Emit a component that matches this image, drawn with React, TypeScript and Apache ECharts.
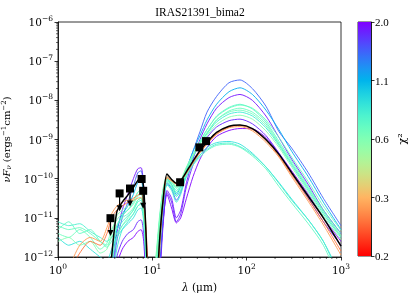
import React, { useEffect, useRef } from "react";
import * as echarts from "echarts";

// Wavelength grid (micron) shared by all model SEDs
const wavelengths = [1, 1.3, 1.7, 2.2, 2.8, 3.3, 3.7, 4.2, 4.8, 5.5, 6.3, 7.0, 7.6, 8.1, 8.6, 9.2, 10, 11, 12, 13, 14.3, 16, 18, 20, 23, 27, 32, 38, 48, 65, 85, 115, 160, 220, 300, 450, 650, 1000];

// log10(nuFnu) of model SEDs
const model01 = [-13, -13, -13, -13, -13, -13, -12.6, -11.6, -11.0, -10.6, -10.2, -9.85, -9.8, -10.3, -11.8, -13, -13.5, -13, -12.2, -10.9, -10.1, -10.25, -10.55, -10.35, -9.8, -9.3, -8.8, -8.3, -7.9, -7.55, -7.48, -7.7, -8.15, -8.8, -9.22, -9.85, -10.5, -11.2];
const model02 = [-13, -13, -13, -13, -13, -13, -12.3, -11.3, -10.9, -10.7, -10.4, -10.1, -10.05, -10.5, -12, -13.5, -14, -12.8, -11.5, -10.5, -10.0, -10.15, -10.4, -10.2, -9.75, -9.3, -8.9, -8.5, -8.1, -7.78, -7.68, -7.85, -8.25, -8.75, -9.3, -9.95, -10.6, -11.3];
const model03 = [-13.5, -13.5, -13.5, -13.5, -13.5, -13.5, -12.5, -11.4, -10.8, -10.4, -10.0, -9.75, -9.72, -10.2, -11.6, -13.5, -14, -13.5, -12.5, -11.2, -10.3, -10.5, -11.0, -10.8, -10.1, -9.5, -9.0, -8.6, -8.2, -7.93, -7.85, -8.0, -8.4, -8.95, -9.5, -10.15, -10.8, -11.4];
const model04 = [-12.5, -12.6, -12.8, -13, -13, -12.8, -12.0, -11.2, -10.95, -10.8, -10.6, -10.35, -10.3, -10.6, -11.8, -12.8, -13.2, -12.2, -11.1, -10.4, -10.0, -10.15, -10.35, -10.2, -9.8, -9.4, -9.05, -8.75, -8.4, -8.18, -8.1, -8.22, -8.55, -9.05, -9.55, -10.2, -10.8, -11.4];
const model05 = [-11.2, -11.3, -11.25, -11.4, -11.6, -11.7, -11.5, -11.2, -11.0, -10.9, -10.75, -10.55, -10.5, -10.8, -11.9, -12.5, -12.8, -11.9, -10.9, -10.3, -10.0, -10.1, -10.25, -10.1, -9.75, -9.4, -9.1, -8.85, -8.5, -8.27, -8.2, -8.3, -8.6, -9.1, -9.6, -10.25, -10.85, -11.45];
const model06 = [-13.5, -13.5, -13.5, -13.5, -13.5, -13.5, -12.8, -11.8, -11.3, -11.1, -10.9, -10.7, -10.65, -11.0, -12.2, -13.5, -14, -13, -11.8, -10.7, -10.15, -10.3, -10.6, -10.4, -9.9, -9.45, -9.1, -8.85, -8.55, -8.35, -8.3, -8.4, -8.7, -9.15, -9.65, -10.3, -10.9, -11.5];
const model07 = [-11.6, -11.5, -11.7, -11.6, -11.9, -11.8, -11.4, -10.95, -10.8, -10.7, -10.55, -10.35, -10.28, -10.6, -11.6, -12.6, -13, -12.0, -11.0, -10.25, -9.95, -10.05, -10.2, -10.05, -9.7, -9.4, -9.15, -8.9, -8.62, -8.43, -8.38, -8.48, -8.78, -9.2, -9.7, -10.35, -10.95, -11.55];
const model08 = [-14, -14, -14, -14, -14, -14, -13, -12.0, -11.6, -11.4, -11.3, -11.1, -11.05, -11.4, -12.5, -14, -14, -13.5, -12.3, -11.1, -10.35, -10.6, -11.1, -10.9, -10.2, -9.65, -9.25, -8.95, -8.68, -8.52, -8.48, -8.6, -8.9, -9.35, -9.85, -10.5, -11.1, -11.7];
const model09 = [-12.6, -12.4, -11.9, -11.6, -11.7, -11.4, -11.0, -10.8, -10.7, -10.6, -10.5, -10.42, -10.38, -10.55, -11.3, -12.8, -14, -13, -11.5, -10.5, -9.95, -10.05, -10.12, -10.05, -9.85, -9.58, -9.32, -9.1, -8.85, -8.68, -8.64, -8.74, -9.02, -9.42, -9.9, -10.52, -11.1, -11.85];
const model10 = [-14, -14, -14, -14, -14, -14, -13, -12.2, -11.8, -11.6, -11.5, -11.35, -11.3, -11.6, -12.8, -14, -14, -13.5, -12.3, -11.1, -10.4, -10.75, -11.13, -11.0, -10.5, -9.95, -9.5, -9.2, -8.92, -8.77, -8.72, -8.73, -8.95, -9.35, -9.8, -10.4, -11.0, -11.6];
const model11 = [-11.1, -11.2, -11.15, -11.35, -11.5, -11.6, -11.5, -11.3, -11.1, -10.95, -10.8, -10.6, -10.55, -10.9, -12.0, -12.9, -13.2, -12.1, -11.0, -10.35, -10.05, -10.15, -10.3, -10.15, -9.85, -9.6, -9.4, -9.25, -9.12, -9.09, -9.18, -9.38, -9.7, -10.12, -10.55, -11.05, -11.6, -12.6];
const model12 = [-11.3, -11.1, -11.4, -11.3, -11.6, -11.75, -11.6, -11.4, -11.2, -11.05, -10.9, -10.7, -10.62, -11.0, -12.1, -13, -13.5, -12.3, -11.1, -10.4, -10.1, -10.2, -10.35, -10.2, -9.9, -9.65, -9.45, -9.28, -9.15, -9.12, -9.2, -9.42, -9.75, -10.2, -10.62, -11.15, -11.7, -12.7];
const model13 = [-11.5, -11.7, -11.6, -11.8, -12.0, -12.1, -11.8, -11.5, -11.3, -11.15, -11.0, -10.8, -10.75, -11.1, -12.3, -13.2, -13.5, -12.4, -11.2, -10.5, -10.15, -10.25, -10.45, -10.3, -9.95, -9.65, -9.4, -9.2, -9.08, -9.05, -9.12, -9.35, -9.7, -10.1, -10.52, -11.05, -11.6, -12.5];
const model14 = [-13, -12.3, -11.7, -11.5, -11.6, -11.25, -10.9, -10.7, -10.6, -10.55, -10.55, -10.5, -10.48, -10.65, -11.5, -13, -14, -13.5, -11.8, -10.6, -9.98, -10.06, -10.14, -10.06, -9.86, -9.6, -9.34, -9.12, -8.87, -8.7, -8.67, -8.78, -9.07, -9.45, -9.95, -10.58, -11.18, -11.95];
const model15 = [-13, -13, -13, -13, -13, -13, -12.2, -11.5, -11.2, -11.0, -10.8, -10.55, -10.5, -10.85, -12.0, -13.3, -13.8, -12.6, -11.4, -10.5, -10.05, -10.2, -10.45, -10.3, -9.85, -9.4, -9.05, -8.75, -8.42, -8.2, -8.12, -8.2, -8.5, -8.95, -9.45, -10.08, -10.7, -11.32];
const model16 = [-11.4, -11.5, -11.3, -11.5, -11.8, -11.65, -11.3, -11.05, -10.9, -10.8, -10.65, -10.45, -10.4, -10.7, -11.8, -12.7, -13, -12, -11.0, -10.3, -9.98, -10.08, -10.22, -10.08, -9.72, -9.38, -9.08, -8.82, -8.5, -8.3, -8.25, -8.35, -8.65, -9.12, -9.62, -10.25, -10.85, -11.48];

const models = [model01, model02, model03, model04, model05, model06, model07, model08, model09, model10, model11, model12, model13, model14, model15, model16];
const modelChi2 = [1.5, 1.15, 1.9, 0.75, 0.7, 0.85, 0.62, 1.8, 0.28, 2.0, 0.8, 0.72, 0.9, 0.32, 0.7, 0.68];

// best fit model
const bestFit = [-14, -14, -14, -14, -14, -13.5, -12.0, -10.85, -10.6, -10.42, -10.22, -10.05, -9.96, -10.25, -11.5, -13.5, -14, -13, -11.5, -10.55, -9.88, -10.02, -10.12, -10.05, -9.82, -9.55, -9.28, -9.07, -8.82, -8.66, -8.63, -8.72, -9.0, -9.38, -9.85, -10.45, -11.0, -11.72];

// observed photometry
const obsWave = [3.6, 4.5, 5.8, 7.7, 8.0, 19.7, 31.5, 37.1];
const obsFlux = [9.8e-12, 4.2e-11, 5.6e-11, 9.8e-11, 4.9e-11, 8.1e-11, 6.3e-10, 9.1e-10];
const obsUpperLimit = [true, true, true, false, true, false, false, false];

// colorbar
const chi2Min = 0.2;
const chi2Max = 2.0;
const colorbarTicks = ["0.2", "0.3", "0.6", "1.1", "2.0"];

const xMinorTicks = [2, 3, 4, 5, 6, 7, 8, 9, 20, 30, 40, 50, 60, 70, 80, 90, 200, 300, 400, 500, 600, 700, 800, 900];
const yMinorTicks: number[] = [];
for (let e = -12; e < -6; e++) for (let k = 2; k <= 9; k++) yMinorTicks.push(k * Math.pow(10, e));

function rainbowR(t: number) {
  const x = 1 - Math.min(1, Math.max(0, t));
  const r = Math.min(1, Math.abs(2 * x - 0.5));
  const g = Math.sin(Math.PI * x);
  const b = Math.cos((Math.PI * x) / 2);
  const c = (v: number) => Math.round(Math.max(0, Math.min(1, v)) * 255);
  return `rgb(${c(r)},${c(g)},${c(b)})`;
}
const chiPos = (c: number) => Math.log10(c / chi2Min) / Math.log10(chi2Max / chi2Min);

const expLabel = (v: number) => {
  const e = Math.round(Math.log10(v));
  return `{b|10}{s|${String(e).replace("-", "\u2212")}}`;
};
const tickRich = {
  b: { fontFamily: "DejaVu Serif", fontSize: 10.5, color: "#000" },
  s: { fontFamily: "DejaVu Serif", fontSize: 7.5, color: "#000", padding: [0, 0, 7, 0] },
};

export default function App() {
  const ref = useRef<HTMLDivElement>(null);
  useEffect(() => {
    if (!ref.current) return;
    const chart = echarts.init(ref.current, undefined, { renderer: "svg" });

    const order = modelChi2.map((c, i) => i).sort((a, b) => modelChi2[b] - modelChi2[a]);
    const modelSeries = order.map((i) => ({
      type: "line",
      xAxisIndex: 0,
      yAxisIndex: 0,
      data: wavelengths.map((w, j) => [w, Math.pow(10, models[i][j])]),
      symbol: "none",
      smooth: 0.25,
      silent: true,
      clip: true,
      z: 2,
      lineStyle: { width: 0.9, color: rainbowR(chiPos(modelChi2[i])) },
    }));

    const arrowSeries: any[] = [];
    obsWave.forEach((w, i) => {
      if (!obsUpperLimit[i]) return;
      const lo = obsFlux[i] * Math.pow(10, -0.38);
      arrowSeries.push({
        type: "line",
        data: [
          { value: [w, obsFlux[i]], symbol: "none" },
          { value: [w, lo], symbol: "triangle", symbolSize: [6, 6], symbolRotate: 180 },
        ],
        showAllSymbol: true,
        lineStyle: { color: "#000", width: 1.2 },
        itemStyle: { color: "#000", opacity: 1 },
        silent: true,
        z: 5,
      });
    });

    const stops = [];
    for (let k = 0; k <= 20; k++) stops.push({ offset: k / 20, color: rainbowR(k / 20) });

    const option: any = {
      animation: false,
      graphic: [
        {
          type: "text",
          x: 200,
          y: 12,
          style: { text: "IRAS21391_bima2", fontFamily: "Liberation Serif", fontSize: 11.5, fill: "#000", textAlign: "center", textVerticalAlign: "middle" },
        },
      ],
      grid: [
        { left: 58, top: 22, width: 283, height: 235, show: true, borderColor: "#000", borderWidth: 0.8, containLabel: false, outerBoundsMode: "none" },
        { left: 358, top: 22, width: 13, height: 234, show: true, borderColor: "#000", borderWidth: 0.8, containLabel: false, outerBoundsMode: "none" },
      ],
      xAxis: [
        {
          type: "log",
          gridIndex: 0,
          logBase: 10,
          min: 1,
          max: 1000,
          splitNumber: 3,
          splitLine: { show: false },
          axisLine: { show: true, lineStyle: { color: "#000", width: 0.8 } },
          axisTick: { show: true, length: 3.5, lineStyle: { color: "#000", width: 0.8 } },
          axisLabel: { formatter: expLabel, rich: tickRich, margin: 5 },
          name: "{i|\u03bb}{n| (\u03bcm)}",
          nameLocation: "middle",
          nameGap: 24,
          nameTextStyle: {
            rich: {
              i: { fontFamily: "DejaVu Serif", fontStyle: "italic", fontSize: 10.5, color: "#000" },
              n: { fontFamily: "DejaVu Serif", fontSize: 10.5, color: "#000" },
            },
          },
        },
        { type: "category", gridIndex: 1, data: ["cb"], show: false },
      ],
      yAxis: [
        {
          type: "log",
          gridIndex: 0,
          logBase: 10,
          min: 1e-12,
          max: 1e-6,
          splitNumber: 6,
          splitLine: { show: false },
          axisLine: { show: true, lineStyle: { color: "#000", width: 0.8 } },
          axisTick: { show: true, length: 3.5, lineStyle: { color: "#000", width: 0.8 } },
          axisLabel: { formatter: expLabel, rich: tickRich, margin: 5 },
          name: "{i|\u03bdF}{sub|\u03bd}{n| (ergs}{p|\u22121}{n|cm}{p|\u22122}{n|)}",
          nameLocation: "middle",
          nameGap: 38,
          nameRotate: 90,
          nameTextStyle: {
            rich: {
              i: { fontFamily: "DejaVu Serif", fontStyle: "italic", fontSize: 10, color: "#000" },
              sub: { fontFamily: "DejaVu Serif", fontStyle: "italic", fontSize: 7, color: "#000", padding: [5, 0, 0, 0] },
              n: { fontFamily: "DejaVu Serif", fontSize: 10, color: "#000" },
              p: { fontFamily: "DejaVu Serif", fontSize: 7, color: "#000", padding: [0, 0, 6, 0] },
            },
          },
        },
        {
          type: "value",
          gridIndex: 1,
          min: 0,
          max: 4,
          interval: 1,
          position: "right",
          splitLine: { show: false },
          axisLine: { show: true, lineStyle: { color: "#000", width: 0.8 } },
          axisTick: { show: true, length: 3.5, lineStyle: { color: "#000", width: 0.8 } },
          axisLabel: {
            formatter: (v: number) => colorbarTicks[Math.round(v)],
            fontFamily: "Liberation Serif",
            fontSize: 11,
            color: "#000",
            margin: 4,
          },
          name: "\u03c7\u00b2",
          nameLocation: "middle",
          nameRotate: 90,
          nameGap: 26,
          nameTextStyle: { fontFamily: "DejaVu Serif", fontSize: 11, color: "#000" },
        },
      ],
      series: [
        ...modelSeries,
        {
          type: "line",
          data: wavelengths.map((w, j) => [w, Math.pow(10, bestFit[j])]),
          symbol: "none",
          smooth: 0.25,
          silent: true,
          clip: true,
          z: 3,
          lineStyle: { width: 1.5, color: "#000" },
        },
        ...arrowSeries,
        {
          type: "scatter",
          data: obsWave.map((w, i) => [w, obsFlux[i]]),
          symbol: "rect",
          symbolSize: 8,
          itemStyle: { color: "#000", opacity: 1 },
          silent: true,
          z: 6,
        },
        {
          type: "custom",
          data: xMinorTicks.map((v) => [v, 1e-12]),
          clip: false,
          silent: true,
          z: 7,
          renderItem: (params: any, api: any) => {
            const p = api.coord([api.value(0), 1e-12]);
            return { type: "line", shape: { x1: p[0], y1: p[1], x2: p[0], y2: p[1] + 2 }, style: { stroke: "#000", lineWidth: 0.6 } };
          },
        },
        {
          type: "custom",
          data: yMinorTicks.map((v) => [1, v]),
          clip: false,
          silent: true,
          z: 7,
          renderItem: (params: any, api: any) => {
            const p = api.coord([1, api.value(1)]);
            return { type: "line", shape: { x1: p[0] - 2, y1: p[1], x2: p[0], y2: p[1] }, style: { stroke: "#000", lineWidth: 0.6 } };
          },
        },
        {
          type: "bar",
          xAxisIndex: 1,
          yAxisIndex: 1,
          data: [4],
          barWidth: "100%",
          silent: true,
          itemStyle: { color: new echarts.graphic.LinearGradient(0, 1, 0, 0, stops) },
        },
      ],
    };
    chart.setOption(option);
    return () => chart.dispose();
  }, []);
  return <div ref={ref} style={{ position: "fixed", left: 0, top: 0, width: 415, height: 298 }} />;
}
